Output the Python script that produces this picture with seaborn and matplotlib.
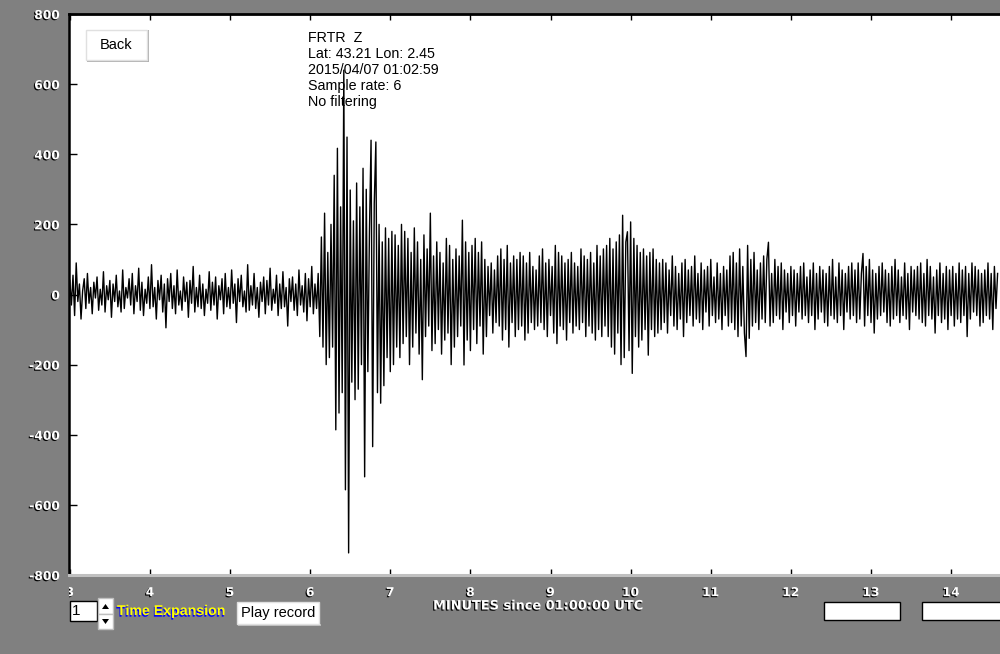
import numpy as np
import pandas as pd
import matplotlib
matplotlib.use("Agg")
import matplotlib.pyplot as plt
import matplotlib.patheffects as pe
from matplotlib.patches import Rectangle, Polygon
from matplotlib.transforms import Bbox, TransformedBbox
import seaborn as sns

# ---------------- data (counts) ----------------
start_minute = 3.0
step_minute = 0.02

pre_event = [
    40, -30, 55, -60, 90, -20, 30, -70, 10, 45, -40, 60, -25, 20, -55, 35, -10, 50, -45, 15,
    -30, 65, -50, 25, -15, 40, -65, 30, -20, 55, -35, 10, -50, 70, -40, 20, -10, 45, -30, 60,
    -55, 25, -20, 75, -45, 35, -60, 15, -25, 50, -40, 85, -35, 20, -70, 40, -15, 55, -50, 30,
    -95, 45, -20, 60, -40, 25, -55, 70, -30, 10, -45, 50, -20, 35, -65, 40, -25, 80, -50, 20,
    -35, 55, -40, 30, -60, 15, -25, 65, -45, 35, -30, 50, -70, 25, -15, 45, -55, 60, -35, 20,
    -40, 70, -25, 30, -80, 45, -20, 55, -35, 10, -50, 85, -45, 25, -30, 60, -40, 20, -65, 35,
    -20, 50, -55, 40, -30, 75, -45, 15, -25, 55, -60, 30, -40, 65, -35, 20, -90, 45, -20, 50,
    -45, 30, -60, 70, -30, 25, -50, 60, -75, 45, -35, 80, -55, 30, -40,
]

main_burst = [
    60, -120, 164, -150, 232, -200, 120, -180, 200, -150,
    340, -386, 417, -338, 250, -280, 640, -557, 449, -737,
    298, -250, 210, -300, 318, -270, 250, -200, 360, -520,
    300, -220, 180, 440, -434, 260, 435, -280, 200, -310,
    150, -260, 190, -180, 160, -220, 180, -200, 170, -150,
]

coda = [
    140, -180, 200, -140, 180, -120, 160, -200, 120, -150,
    190, -110, 150, -170, 100, -243, 170, -120, 130, -90,
    232, -160, 110, -140, 150, -100, 120, -170, 90, -130,
    160, -110, 140, -200, 100, -150, 130, -120, 110, -90,
    212, -201, 150, -130, 120, -160, 140, -100, 160, -140,
    120, -90, 150, -170, 100, -120, 80, -60, 90, -110,
    70, -80, 110, -90, 130, -130, 100, -100, 140, -150,
    90, -80, 110, -120, 100, -100, 120, -90, 110, -130,
    90, -110, 120, -80, 80, -100, 70, -90, 110, -80,
    130, -100, 90, -120, 100, -60, 80, -110, 140, -140,
    120, -90, 110, -100, 90, -130, 100, -80, 120, -110,
    90, -90, 80, -100, 130, -80, 110, -120, 100, -90,
    120, -110, 90, -130, 140, -100, 110, -120, 130, -90,
]

second_arrival = [
    140, -120, 160, -150, 130, -170, 150, -110, 170, -200,
    226, -180, 150, 179, -160, 207, -225, 160, -120, 140,
    -150, 120, -130, 130, -100, 110, -173, 120, -100, 130,
    -120, 100, -110, 90, -100,
]

tail = [
    100, -80, 90, -110, 70, -60, 110, -90, 80, -100, 60, -70, 90, -120, 100, -80, 70, -60, 80, -90,
    110, -70, 60, -80, 90, -100, 70, -50, 80, -90, 100, -60, 50, -80, 90, -70, 60, -100, 80, -60,
    70, -90, 110, -80, 120, -100, 90, -120, 130, -90, 80, -110, -177, 140, -125, 100, -90, 120, -80, 70,
    -100, 90, -70, 110, -80, 100, 149, -90, 60, -80, 100, -60, 80, -70, 90, -100, 70, -50, 60, -80,
    80, -60, 70, -90, 60, -50, 80, -70, 90, -60, 50, -80, 70, -60, 90, -100, 60, -70, 80, -50,
    70, -80, 60, -90, 80, -60, 100, -70, 50, -80, 90, -60, 70, -100, 60, -50, 80, -70, 90, -60,
    70, -80, 90, -70, 60, 117, -90, 80, -60, 100, -80, 70, -110, 60, -70, 80, -60, 90, -50, 70,
    -80, 60, -90, 80, -70, 100, -60, 70, -80, 50, -60, 90, -70, 60, -100, 80, -50, 70, -60, 80,
    -70, 90, -80, 60, -90, 100, -60, 80, -70, 50, -110, 70, -60, 90, -80, 60, -70, 80, -100, 70,
    -60, 80, -90, 60, -70, 90, -80, 70, -60, 80, -120, 60, -70, 90, -50, 80, -60, 70, -90, 60,
    -80, 70, -60, 90, -70, 60, -100, 80, -40, 60,
]

y_ticks = [-800, -600, -400, -200, 0, 200, 400, 600, 800]
x_ticks = [3, 4, 5, 6, 7, 8, 9, 10, 11, 12, 13, 14]

info_lines = ["FRTR  Z", "Lat: 43.21 Lon: 2.45", "2015/04/07 01:02:59",
              "Sample rate: 6", "No filtering"]
x_title = "MINUTES since 01:00:00 UTC"

# ---------------- build table ----------------
counts = np.array(pre_event + main_burst + coda + second_arrival + tail, dtype=float)
minutes = start_minute + step_minute * np.arange(len(counts))
df = pd.DataFrame({"minute": minutes, "count": counts})

# ---------------- figure ----------------
W, H = 1000, 654
GREY = "#808080"
fig = plt.figure(figsize=(W / 100, H / 100), dpi=100, facecolor=GREY)
plt.rcParams["font.family"] = ["Liberation Sans", "DejaVu Sans"]


def fx(x):
    return x / W


def fy(y):
    return 1 - y / H


ax = fig.add_axes([fx(69), fy(575), fx(1000) - fx(69), fy(14) - fy(575)])
ax.set_facecolor("white")

sns.lineplot(data=df, x="minute", y="count", ax=ax, color="black",
             linewidth=1.0, estimator=None, sort=False, legend=False)

ax.set_xlim(2.99, 14.61)
ax.set_ylim(-800, 800)
ax.set_xlabel("")
ax.set_ylabel("")
ax.set_yticks(y_ticks)
ax.set_xticks(x_ticks)
ax.set_yticklabels([str(v) for v in y_ticks])
ax.set_xticklabels([str(v) for v in x_ticks])

ax.tick_params(axis="y", direction="in", length=6, width=1, color="black",
               left=True, right=False, pad=6.5)
ax.tick_params(axis="x", direction="in", length=4.5, width=1, color="black",
               top=True, bottom=True, pad=8)

shadow = [pe.SimplePatchShadow(offset=(-0.8, -0.8), shadow_rgbFace="black", alpha=1.0),
          pe.Normal()]
for lab in ax.get_yticklabels() + ax.get_xticklabels():
    lab.set_color("white")
    lab.set_fontfamily("DejaVu Sans")
    lab.set_fontweight("bold")
    lab.set_fontsize(8.8)
    lab.set_path_effects(shadow)

# clip the first x label at the axes left edge (as in reference)
first = ax.get_xticklabels()[0]
first.set_clip_box(TransformedBbox(Bbox([[fx(69), 0], [1, 1]]), fig.transFigure))
first.set_clip_on(True)

ax.spines["right"].set_visible(False)
ax.spines["left"].set_color("black")
ax.spines["left"].set_linewidth(1.8)
ax.spines["top"].set_color("black")
ax.spines["top"].set_linewidth(2.0)
ax.spines["bottom"].set_color("#c0c0c0")
ax.spines["bottom"].set_linewidth(2.2)

# info text
for i, line in enumerate(info_lines):
    fig.text(fx(308), fy(38 + 16 * i), line, ha="left", va="center",
             fontsize=10.3, color="black")


def button(x0, y0, x1, y1, label=None, edge="#a0a0a0", lw=1.0, tx=None, **kw):
    fig.add_artist(Rectangle((fx(x0), fy(y1)), fx(x1) - fx(x0), fy(y0) - fy(y1),
                             transform=fig.transFigure, facecolor="white",
                             edgecolor=edge, linewidth=lw))
    if label is not None:
        cx = (x0 + x1) / 2 if tx is None else tx
        fig.text(fx(cx), fy((y0 + y1) / 2), label,
                 ha="center" if tx is None else "left", va="center", **kw)


# Back button
fig.add_artist(Rectangle((fx(87), fy(62)), fx(62), fy(0) - fy(2),
                         transform=fig.transFigure, facecolor="#b0b0b0", edgecolor="none"))
fig.add_artist(Rectangle((fx(147), fy(62)), fx(2), fy(30) - fy(62),
                         transform=fig.transFigure, facecolor="#b0b0b0", edgecolor="none"))
button(86, 30, 147, 60, "Back", edge="#e0e0e0", fontsize=10.5, color="black")

# spin box
button(70, 601, 97, 621, "1", edge="black", lw=1.0, tx=72, fontsize=11, color="black")
button(98, 598, 113, 614, edge="#c0c0c0")
button(98, 614, 113, 629, edge="#c0c0c0")
fig.add_artist(Polygon([[fx(102), fy(609)], [fx(109), fy(609)], [fx(105.5), fy(604)]],
                       closed=True, transform=fig.transFigure, facecolor="black"))
fig.add_artist(Polygon([[fx(102), fy(619)], [fx(109), fy(619)], [fx(105.5), fy(624)]],
                       closed=True, transform=fig.transFigure, facecolor="black"))

# Time Expansion
fig.text(fx(117), fy(611), "Time Expansion", ha="left", va="center", fontsize=10.2,
         fontweight="bold", color="yellow",
         path_effects=[pe.SimplePatchShadow(offset=(-0.6, -1.2), shadow_rgbFace="blue", alpha=1.0),
                       pe.Normal()])

# Play record
fig.add_artist(Rectangle((fx(238), fy(626)), fx(83), fy(0) - fy(2),
                         transform=fig.transFigure, facecolor="#b8b8b8", edgecolor="none"))
button(237, 602, 319, 624, "Play record", edge="#e0e0e0", fontsize=10.5, color="black")

# axis title
fig.text(fx(538), fy(606), x_title, ha="center", va="center", fontsize=9.3,
         fontweight="bold", color="white", fontfamily="DejaVu Sans",
         path_effects=shadow)

# empty boxes
button(824, 602, 900, 620, edge="black", lw=1.0)
button(922, 602, 1003, 620, edge="black", lw=1.0)

fig.savefig("out.png", dpi=100, facecolor=GREY)
